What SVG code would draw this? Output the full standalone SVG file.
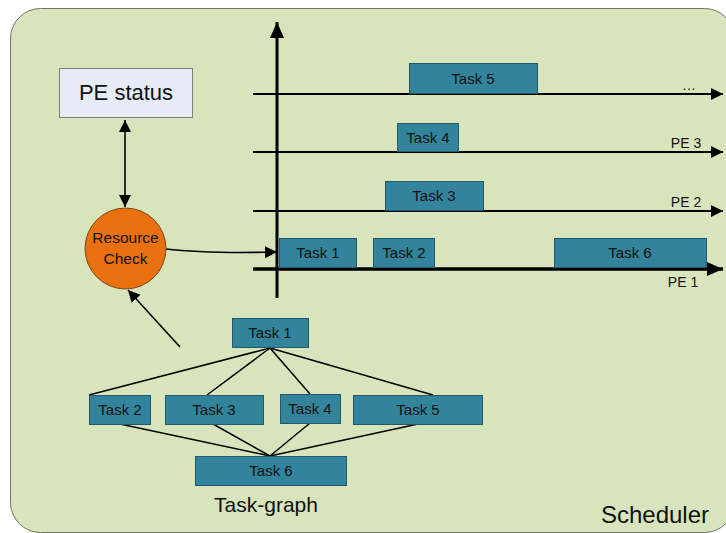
<svg xmlns="http://www.w3.org/2000/svg" width="726" height="533" viewBox="0 0 726 533">
  <defs>
    <style>
      .task rect { fill: #31849b; stroke: #24596a; stroke-width: 1; }
      .task text, .lbl { font-family: "Liberation Sans", Arial, sans-serif; font-size: 15px; fill: #111; text-anchor: middle; }
      .edge { stroke: #000; stroke-width: 1.6; fill: none; }
      .axis { stroke: #000; stroke-width: 2; fill: none; }
      .pe { font-family: "Liberation Sans", Arial, sans-serif; font-size: 14px; fill: #111; text-anchor: middle; }
    </style>
    <marker id="head" markerUnits="userSpaceOnUse" markerWidth="14" markerHeight="14" refX="12" refY="6" orient="auto">
      <path d="M0,0 L12,6 L0,12 Z" fill="#000"/>
    </marker>
    <marker id="headStart" markerUnits="userSpaceOnUse" markerWidth="14" markerHeight="14" refX="0" refY="6" orient="auto">
      <path d="M12,0 L0,6 L12,12 Z" fill="#000"/>
    </marker>
    <marker id="bigHead" markerUnits="userSpaceOnUse" markerWidth="18" markerHeight="16" refX="16" refY="7" orient="auto">
      <path d="M0,0 L16,7 L0,14 Z" fill="#000"/>
    </marker>
  </defs>

  <!-- scheduler panel -->
  <rect id="scheduler" x="10.5" y="8.5" width="724" height="524" rx="30" ry="30" fill="#d8e4bc" stroke="#6f7468" stroke-width="1"/>
  <text x="655" y="523" font-family="Liberation Sans, Arial, sans-serif" font-size="24" fill="#111" text-anchor="middle">Scheduler</text>

  <!-- connectors -->
  <g id="connectors">
    <!-- PE status <-> Resource Check -->
    <line class="edge" x1="125" y1="120" x2="125" y2="207" marker-start="url(#headStart)" marker-end="url(#head)"/>
    <!-- Resource Check -> timeline -->
    <path class="edge" d="M166,249 C 200,253 235,253 277,252" marker-end="url(#head)"/>
    <!-- task graph -> Resource Check -->
    <line class="edge" x1="180" y1="347" x2="128" y2="290" marker-end="url(#head)"/>

    <!-- timeline axes -->
    <line x1="277" y1="298" x2="277" y2="22" stroke="#000" stroke-width="3" marker-end="url(#bigHead)"/>
    <line class="axis" x1="253" y1="94" x2="723" y2="94" marker-end="url(#head)"/>
    <line class="axis" x1="253" y1="152" x2="723" y2="152" marker-end="url(#head)"/>
    <line class="axis" x1="253" y1="211" x2="723" y2="211" marker-end="url(#head)"/>
    <line x1="253" y1="269" x2="723" y2="269" stroke="#000" stroke-width="3.5" marker-end="url(#bigHead)"/>

    <!-- task graph dependencies -->
    <g stroke="#000" stroke-width="1.5" fill="none">
      <line x1="270" y1="348" x2="89" y2="395"/>
      <line x1="270" y1="348" x2="207" y2="395"/>
      <line x1="270" y1="348" x2="310" y2="394"/>
      <line x1="270" y1="348" x2="433" y2="395"/>
      <line x1="120" y1="424" x2="270" y2="456"/>
      <line x1="213" y1="424" x2="270" y2="456"/>
      <line x1="310" y1="423" x2="270" y2="456"/>
      <line x1="418" y1="424" x2="270" y2="456"/>
    </g>
  </g>

  <!-- PE labels -->
  <text class="pe" x="689" y="90">…</text>
  <text class="pe" x="686" y="148">PE 3</text>
  <text class="pe" x="686" y="207">PE 2</text>
  <text class="pe" x="683" y="287">PE 1</text>

  <!-- PE status -->
  <g id="pe-status">
    <rect x="59.5" y="68.5" width="133" height="49" fill="#e6ecf6" stroke="#7f7f7f" stroke-width="1"/>
    <text x="126" y="100" font-family="Liberation Sans, Arial, sans-serif" font-size="22" fill="#111" text-anchor="middle">PE status</text>
  </g>

  <!-- Resource Check -->
  <g id="resource-check">
    <circle cx="125.5" cy="248.5" r="40.5" fill="#e8700f" stroke="#7a4a1a" stroke-width="1"/>
    <text class="lbl" x="125.5" y="243" style="font-size:15.5px">Resource</text>
    <text class="lbl" x="125.5" y="264" style="font-size:15.5px">Check</text>
  </g>

  <!-- schedule on PEs -->
  <g id="sched-task5" class="task"><rect x="409.5" y="63.5" width="128" height="30"/><text x="473" y="84">Task 5</text></g>
  <g id="sched-task4" class="task"><rect x="397.5" y="123.5" width="61" height="28"/><text x="428" y="143">Task 4</text></g>
  <g id="sched-task3" class="task"><rect x="385.5" y="181.5" width="98" height="29"/><text x="434" y="201">Task 3</text></g>
  <g id="sched-task1" class="task"><rect x="279.5" y="238.5" width="77" height="29"/><text x="318" y="258">Task 1</text></g>
  <g id="sched-task2" class="task"><rect x="373.5" y="238.5" width="61" height="29"/><text x="404" y="258">Task 2</text></g>
  <g id="sched-task6" class="task"><rect x="554.5" y="238.5" width="152" height="29"/><text x="630" y="258">Task 6</text></g>

  <!-- task graph -->
  <g id="tg-task1" class="task"><rect x="232.5" y="318.5" width="76" height="29"/><text x="270" y="338">Task 1</text></g>
  <g id="tg-task2" class="task"><rect x="89.5" y="395.5" width="61" height="29"/><text x="120" y="415">Task 2</text></g>
  <g id="tg-task3" class="task"><rect x="165.5" y="395.5" width="98" height="29"/><text x="214" y="415">Task 3</text></g>
  <g id="tg-task4" class="task"><rect x="280.5" y="394.5" width="60" height="29"/><text x="310" y="414">Task 4</text></g>
  <g id="tg-task5" class="task"><rect x="353.5" y="395.5" width="129" height="29"/><text x="418" y="415">Task 5</text></g>
  <g id="tg-task6" class="task"><rect x="195.5" y="456.5" width="151" height="29"/><text x="271" y="476">Task 6</text></g>
  <text x="266" y="512" font-family="Liberation Sans, Arial, sans-serif" font-size="21" fill="#111" text-anchor="middle">Task-graph</text>
</svg>
